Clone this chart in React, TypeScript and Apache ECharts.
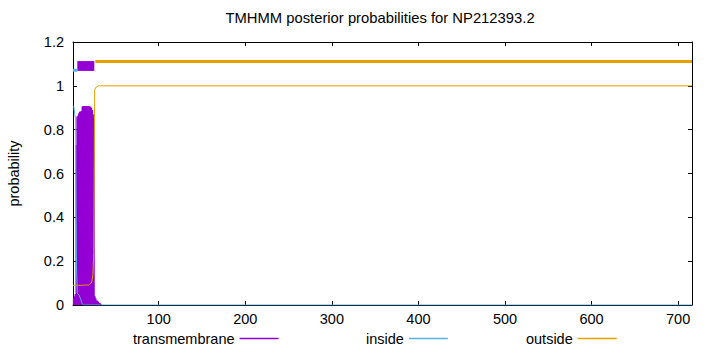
import React, { useEffect, useRef } from "react";
import * as echarts from "echarts";

// Residue positions (1..33, then the last residue of the protein)
const residue = [
  1, 2, 3, 4, 5, 6, 7, 8, 9, 10, 11, 12, 13, 14, 15, 16, 17, 18, 19, 20, 21, 22,
  23, 24, 25, 26, 27, 28, 29, 30, 31, 32, 33, 716,
];
// Posterior probabilities per residue
const transmembrane = [
  0, 0.03, 0.04, 0.05, 0.73, 0.86, 0.864, 0.875, 0.882, 0.882, 0.885, 0.905,
  0.908, 0.908, 0.908, 0.908, 0.908, 0.908, 0.908, 0.905, 0.905, 0.9, 0.89,
  0.87, 0.85, 0.04, 0.03, 0.02, 0.02, 0.015, 0.01, 0.008, 0.005, 0,
];
const inside = [
  0.91, 0.905, 0.87, 0.85, 0.18, 0.053, 0.05, 0.045, 0.035, 0.025, 0.012, 0.003,
  0, 0, 0, 0, 0, 0, 0, 0, 0, 0, 0, 0, 0, 0, 0, 0, 0, 0, 0, 0, 0, 0,
];
const outside = [
  0.09, 0.09, 0.09, 0.09, 0.09, 0.09, 0.09, 0.09, 0.09, 0.09, 0.09, 0.09, 0.091,
  0.091, 0.091, 0.091, 0.091, 0.091, 0.091, 0.094, 0.096, 0.1, 0.11, 0.14, 0.24,
  0.98, 0.99, 0.995, 0.995, 1.0, 1.0, 1.0, 1.0, 1.0,
];

// Predicted topology (residue ranges) and the levels at which it is drawn
const insideSegment = [1, 6];
const tmSegment = [6, 25.6];
const outsideSegment = [26.8, 716];
const insideLevel = [1.071];
const outsideLevel = [1.111];
const tmBoxLevels = [1.068, 1.113];

const xTicks = [100, 200, 300, 400, 500, 600, 700];
const legendNames = ["transmembrane", "inside", "outside"];
const titleText = "TMHMM posterior probabilities for NP212393.2";

const FONT = '"Liberation Sans", Arial, Helvetica, sans-serif';
const FS = 14.5;
const PURPLE = "#9400d3";
const BLUE = "#56b4e9";
const ORANGE = "#e69f00";

export default function App() {
  const ref = useRef<HTMLDivElement>(null);

  useEffect(() => {
    if (!ref.current) return;
    const chart = echarts.init(ref.current, undefined, { renderer: "svg" });

    const pairs = (vals: number[]) => residue.map((r, i) => [r, vals[i]]);

    const axisLine = { show: true, onZero: false, lineStyle: { color: "#000", width: 1 } };
    const tick = { show: true, inside: true, length: 4, lineStyle: { color: "#000", width: 1 } };
    const textStyle = { fontFamily: FONT, fontSize: FS, color: "#000" };

    const legendBase = {
      align: "right" as const,
      icon: "rect",
      itemWidth: 39,
      itemHeight: 1.5,
      padding: 0,
      top: 331,
      textStyle,
    };

    chart.setOption({
      animation: false,
      backgroundColor: "#fff",
      graphic: [
        {
          type: "text",
          x: 380,
          y: 18,
          style: {
            text: titleText,
            textAlign: "center",
            textVerticalAlign: "middle",
            fontFamily: FONT,
            fontSize: 14.8,
            fill: "#000",
          },
        },
      ],
      grid: {
        left: 73,
        right: 18,
        top: 42,
        bottom: 45,
        containLabel: false,
        outerBoundsMode: "none",
      },
      legend: [
        { ...legendBase, data: [legendNames[0]], left: 133 },
        { ...legendBase, data: [legendNames[1]], left: 366 },
        { ...legendBase, data: [legendNames[2]], left: 526 },
      ],
      xAxis: [
        {
          type: "value",
          min: 1,
          max: 716,
          position: "bottom",
          axisLine,
          axisTick: { ...tick, customValues: xTicks },
          axisLabel: { ...textStyle, customValues: xTicks, margin: 6 },
          splitLine: { show: false },
        },
        {
          type: "value",
          min: 1,
          max: 716,
          position: "top",
          axisLine,
          axisTick: { ...tick, customValues: xTicks },
          axisLabel: { show: false },
          splitLine: { show: false },
        },
      ],
      yAxis: [
        {
          type: "value",
          min: 0,
          max: 1.2,
          interval: 0.2,
          position: "left",
          name: "probability",
          nameLocation: "middle",
          nameRotate: 90,
          nameGap: 52,
          nameTextStyle: textStyle,
          axisLine,
          axisTick: tick,
          axisLabel: {
            ...textStyle,
            margin: 9,
            formatter: (v: number) => String(Math.round(v * 10) / 10),
          },
          splitLine: { show: false },
        },
        {
          type: "value",
          min: 0,
          max: 1.2,
          interval: 0.2,
          position: "right",
          axisLine,
          axisTick: tick,
          axisLabel: { show: false },
          splitLine: { show: false },
        },
      ],
      series: [
        {
          name: legendNames[0],
          type: "bar",
          xAxisIndex: 0,
          yAxisIndex: 0,
          barWidth: 2,
          itemStyle: { color: PURPLE },
          data: pairs(transmembrane),
          markArea: {
            silent: true,
            itemStyle: { color: PURPLE, opacity: 1 },
            data: [
              [
                { coord: [tmSegment[0], tmBoxLevels[0]] },
                { coord: [tmSegment[1], tmBoxLevels[1]] },
              ],
            ],
          },
        },
        {
          name: legendNames[1],
          type: "line",
          xAxisIndex: 0,
          yAxisIndex: 0,
          symbol: "none",
          color: BLUE,
          lineStyle: { color: BLUE, width: 1 },
          data: pairs(inside),
        },
        {
          name: legendNames[2],
          type: "line",
          xAxisIndex: 0,
          yAxisIndex: 0,
          symbol: "none",
          color: ORANGE,
          lineStyle: { color: ORANGE, width: 1 },
          data: pairs(outside),
        },
        {
          name: "inside topology",
          type: "line",
          symbol: "none",
          color: BLUE,
          lineStyle: { color: BLUE, width: 3 },
          data: insideSegment.map((x) => [x, insideLevel[0]]),
        },
        {
          name: "outside topology",
          type: "line",
          symbol: "none",
          color: ORANGE,
          lineStyle: { color: ORANGE, width: 3 },
          data: outsideSegment.map((x) => [x, outsideLevel[0]]),
        },
      ],
    });

    return () => chart.dispose();
  }, []);

  return (
    <div
      ref={ref}
      style={{ position: "fixed", left: 0, top: 0, width: 710, height: 350, background: "#fff" }}
    />
  );
}
